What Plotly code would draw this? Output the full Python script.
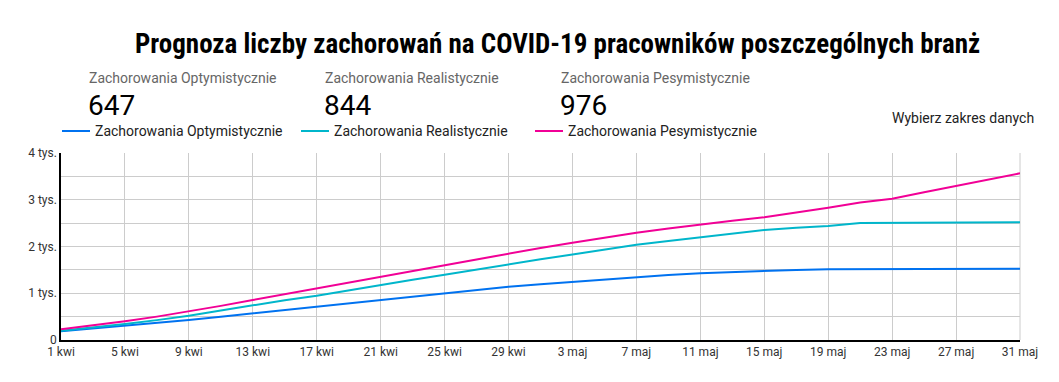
import plotly.graph_objects as go
import pandas as pd

# ---- data ----
start_date = "2020-04-01"
n_points = 31  # every 2 days, 1 kwi .. 31 maj
dates = pd.date_range(start_date, periods=n_points, freq="2D")

optymistyczne = [185, 245, 300, 362, 428, 498, 570, 640, 713, 785, 856, 927, 998, 1070, 1140,
                 1195, 1248, 1302, 1355, 1392, 1426, 1455, 1483, 1500, 1512, 1515, 1519, 1519,
                 1520, 1523, 1526]
realistyczne = [195, 265, 342, 425, 520, 632, 749, 850, 948, 1065, 1183, 1290, 1395, 1508, 1622,
                1728, 1828, 1930, 2035, 2120, 2200, 2278, 2353, 2400, 2440, 2505, 2510, 2512,
                2513, 2515, 2517]
pesymistyczne = [230, 310, 400, 500, 610, 730, 855, 980, 1105, 1230, 1355, 1480, 1605, 1730, 1855,
                 1970, 2082, 2190, 2295, 2385, 2475, 2550, 2625, 2720, 2830, 2940, 3020, 3160,
                 3295, 3430, 3565]

series_names = ["Zachorowania Optymistycznie", "Zachorowania Realistycznie", "Zachorowania Pesymistycznie"]
kpi_values = ["647", "844", "976"]
colors = ["#0072f0", "#00b6cb", "#f10096"]

x_tick_dates = pd.date_range(start_date, "2020-05-31", freq="4D")
x_tick_labels = ["1 kwi", "5 kwi", "9 kwi", "13 kwi", "17 kwi", "21 kwi", "25 kwi", "29 kwi",
                 "3 maj", "7 maj", "11 maj", "15 maj", "19 maj", "23 maj", "27 maj", "31 maj"]
y_tick_vals = [0, 500, 1000, 1500, 2000, 2500, 3000, 3500, 4000]
y_tick_labels = ["0", "", "1 tys.", "", "2 tys.", "", "3 tys.", "", "4 tys."]

title_text = "Prognoza liczby zachorowań na COVID-19 pracowników poszczególnych branż"
range_text = "Wybierz zakres danych"

# ---- figure (page body has an 8px margin) ----
OFF = 8
SW, SH = 1059, 382
W, H = SW - OFF, SH - OFF
L, R, T, B = 61 - OFF, SW - 1020, 153 - OFF, SH - 340
PW = W - L - R
PH = H - T - B

def px(xs):
    return (xs - OFF - L) / PW

def py(ys):
    return (H - B - (ys - OFF)) / PH

fig = go.Figure()
for name, vals, col in zip(series_names, [optymistyczne, realistyczne, pesymistyczne], colors):
    fig.add_trace(go.Scatter(x=dates, y=vals, mode="lines", name=name,
                             line=dict(color=col, width=2), showlegend=False))

annotations = []
shapes = []
font_main = "Roboto, 'Noto Sans', sans-serif"

annotations.append(dict(text=f"<b>{title_text}</b>", x=px(557), y=py(44), xref="paper", yref="paper",
                        xanchor="center", yanchor="middle", showarrow=False,
                        font=dict(family="'Liberation Sans Narrow', 'Arial Narrow', 'Roboto Condensed', Roboto, sans-serif",
                                  size=27, color="#000000")))

kpi_x = [87, 323, 559]
for xk, name, val in zip(kpi_x, series_names, kpi_values):
    annotations.append(dict(text=name, x=px(xk), y=py(78), xref="paper", yref="paper",
                            xanchor="left", yanchor="middle", showarrow=False,
                            font=dict(family=font_main, size=14, color="#666666")))
    annotations.append(dict(text=val, x=px(xk - 1), y=py(105), xref="paper", yref="paper",
                            xanchor="left", yanchor="middle", showarrow=False,
                            font=dict(family=font_main, size=28, color="#000000")))

leg_x = [62, 301, 535]
for xl, name, col in zip(leg_x, series_names, colors):
    shapes.append(dict(type="line", xref="paper", yref="paper", x0=px(xl), x1=px(xl + 28),
                       y0=py(131), y1=py(131), line=dict(color=col, width=2)))
    annotations.append(dict(text=name, x=px(xl + 31), y=py(131), xref="paper", yref="paper",
                            xanchor="left", yanchor="middle", showarrow=False,
                            font=dict(family=font_main, size=14, color="#222222")))

annotations.append(dict(text=range_text, x=px(1036), y=py(118), xref="paper", yref="paper",
                        xanchor="right", yanchor="middle", showarrow=False,
                        font=dict(family=font_main, size=14, color="#222222")))

# right edge vertical gridline
shapes.append(dict(type="line", xref="paper", yref="paper", x0=1, x1=1, y0=0, y1=1,
                   line=dict(color="#cccccc", width=1), layer="below"))

fig.update_layout(
    width=W, height=H,
    margin=dict(l=L, r=R, t=T, b=B),
    paper_bgcolor="white", plot_bgcolor="white",
    annotations=annotations, shapes=shapes,
    showlegend=False,
    xaxis=dict(type="date", range=[dates[0], dates[-1]], tickvals=x_tick_dates, ticktext=x_tick_labels,
               showgrid=True, gridcolor="#cccccc", gridwidth=1, showline=True, linecolor="#000000",
               linewidth=1.5, ticks="", tickfont=dict(family=font_main, size=12, color="#333333"),
               zeroline=False, fixedrange=True),
    yaxis=dict(range=[0, 4000], tickvals=y_tick_vals, ticktext=y_tick_labels,
               showgrid=True, gridcolor="#cccccc", gridwidth=1, showline=True, linecolor="#000000",
               linewidth=1.5, ticks="", tickfont=dict(family=font_main, size=12, color="#333333"),
               zeroline=False, fixedrange=True),
)

fig.write_html("out.html")
